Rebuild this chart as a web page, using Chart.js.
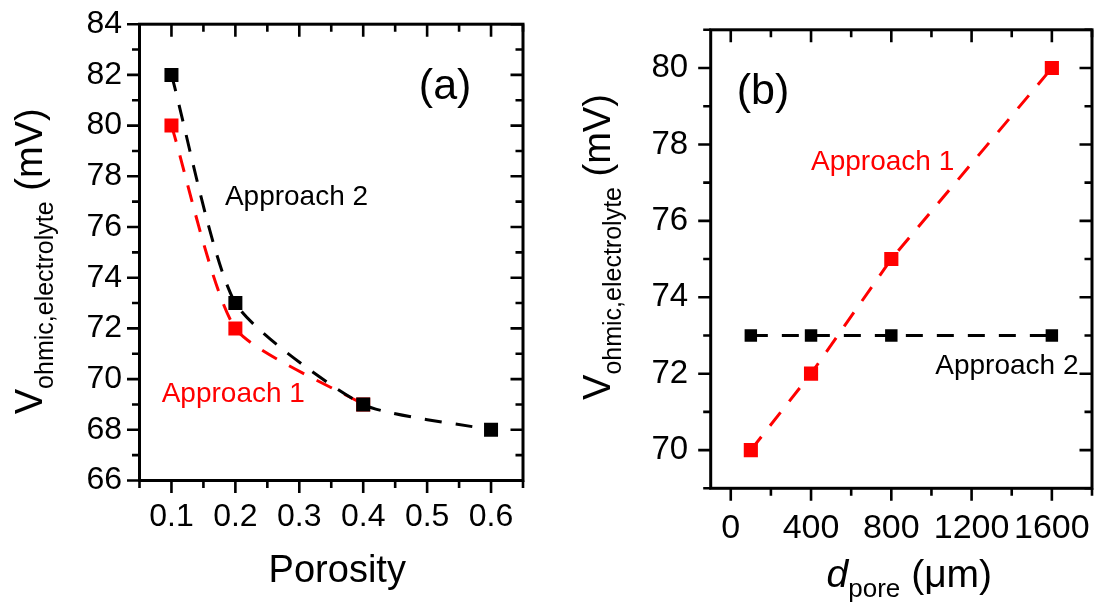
<!DOCTYPE html>
<html>
<head>
<meta charset="utf-8">
<script src="https://cdn.jsdelivr.net/npm/chart.js@4.4.0/dist/chart.umd.min.js"></script>
<style>
  html, body { margin: 0; padding: 0; background: #fff; }
  #wrap { position: relative; width: 1102px; height: 609px; }
  .panel { position: absolute; top: 0; width: 551px; height: 609px; }
</style>
</head>
<body>
<div id="wrap">
  <div class="panel" style="left:0"><canvas id="chartA" width="551" height="609"></canvas></div>
  <div class="panel" style="left:551px"><canvas id="chartB" width="551" height="609"></canvas></div>
</div>
<script>
// (a) voltage vs porosity
const porosity = [0.1, 0.2, 0.4, 0.6];
const porosityApproach1 = [80, 72, 69];
const porosityApproach2 = [82, 73, 69, 68];
const porosityTicks = [0.1, 0.2, 0.3, 0.4, 0.5, 0.6];
const voltageTicksA = [66, 68, 70, 72, 74, 76, 78, 80, 82, 84];

// (b) voltage vs pore diameter
const poreSize = [100, 400, 800, 1600];
const poreApproach1 = [70, 72, 75, 80];
const poreApproach2 = [73, 73, 73, 73];
const poreTicks = [0, 400, 800, 1200, 1600];
const voltageTicksB = [70, 72, 74, 76, 78, 80];

const RED = '#ff0000';
const FONT = "'Liberation Sans', Arial, sans-serif";
Chart.defaults.font.family = FONT;
Chart.defaults.color = '#000';

function pts(xs, ys) {
    return ys.map((y, i) => ({ x: xs[i], y: y }));
}

function minorList(min, max, step) {
    const out = [];
    for (let v = min; v <= max + step / 100; v += step) out.push(+v.toFixed(4));
    return out;
}

// draw a row of text runs (for subscripts), optionally rotated
function drawRuns(ctx, runs, x, y, angle, center) {
    ctx.save();
    ctx.translate(x, y);
    ctx.rotate(angle || 0);
    ctx.textAlign = 'left';
    ctx.textBaseline = 'alphabetic';
    let total = 0;
    runs.forEach(r => { ctx.font = r.font; total += ctx.measureText(r.text).width; });
    let cx = center ? -total / 2 : 0;
    runs.forEach(r => {
        ctx.font = r.font;
        ctx.fillStyle = r.color || '#000';
        ctx.fillText(r.text, cx, r.dy || 0);
        cx += ctx.measureText(r.text).width;
    });
    ctx.restore();
}

// frame + Origin style ticks (out on bottom/left, in on top/right)
const frameTicks = {
    id: 'frameTicks',
    beforeDatasetsDraw(chart, args, opts) {
        const { ctx, chartArea: a, scales: { x, y } } = chart;
        const major = 12.5, minor = 7.5;
        ctx.save();
        ctx.strokeStyle = '#000';
        ctx.lineWidth = 2.6;
        ctx.lineCap = 'butt';
        ctx.beginPath();
        const xTick = (v, len) => {
            const px = x.getPixelForValue(v);
            ctx.moveTo(px, a.bottom); ctx.lineTo(px, a.bottom + len);
            ctx.moveTo(px, a.top); ctx.lineTo(px, a.top + len);
        };
        const yTick = (v, len) => {
            const py = y.getPixelForValue(v);
            ctx.moveTo(a.left, py); ctx.lineTo(a.left - len, py);
            ctx.moveTo(a.right, py); ctx.lineTo(a.right - len, py);
        };
        opts.xMajor.forEach(v => xTick(v, major));
        opts.xMinor.forEach(v => xTick(v, minor));
        opts.yMajor.forEach(v => yTick(v, major));
        opts.yMinor.forEach(v => yTick(v, minor));
        ctx.stroke();
        ctx.lineWidth = 3;
        ctx.strokeRect(a.left, a.top, a.right - a.left, a.bottom - a.top);
        ctx.restore();
    }
};

// free text: panel letter, series names, axis titles
const panelText = {
    id: 'panelText',
    afterDatasetsDraw(chart, args, opts) {
        const { ctx, chartArea: a, scales: { x, y } } = chart;
        opts.labels.forEach(l => {
            drawRuns(ctx, [{ text: l.text, font: l.font, color: l.color }],
                x.getPixelForValue(l.x), y.getPixelForValue(l.y));
        });
        const yt = opts.yTitle;
        drawRuns(ctx, yt.runs, a.left - yt.dx, (a.top + a.bottom) / 2 + yt.dy, -Math.PI / 2, true);
        const xt = opts.xTitle;
        drawRuns(ctx, xt.runs, (a.left + a.right) / 2 + xt.dx, a.bottom + xt.dy, 0, true);
    }
};

function vTitle() {
    return [
        { text: 'V', font: '38px ' + FONT },
        { text: 'ohmic,electrolyte', font: '25px ' + FONT, dy: 11 },
        { text: ' (mV)', font: '38px ' + FONT }
    ];
}

function axisOpts(min, max, tickVals, size, fitSize, isX, pad, fmt) {
    return {
        type: 'linear',
        min: min,
        max: max,
        afterBuildTicks: s => { s.ticks = tickVals.map(v => ({ value: v })); },
        afterFit: s => { if (isX) s.height = fitSize; else s.width = fitSize; },
        grid: { display: true, drawOnChartArea: false, drawTicks: true, tickLength: 12.5, color: 'rgba(0,0,0,0)' },
        border: { display: false },
        ticks: { padding: pad, color: '#000', font: { size: size }, maxRotation: 0, autoSkip: false, callback: fmt }
    };
}

const dashed = [17, 14];

// Panel (a)
new Chart(document.getElementById('chartA'), {
    type: 'line',
    data: {
        datasets: [
            {
                label: 'Approach 2',
                data: pts(porosity, porosityApproach2),
                borderColor: '#000', backgroundColor: '#000',
                borderWidth: 3, borderDash: dashed, tension: 0.2,
                pointStyle: 'rect', pointRadius: 9.9, pointBorderWidth: 0,
                order: 1
            },
            {
                label: 'Approach 1',
                data: pts(porosity, porosityApproach1),
                borderColor: RED, backgroundColor: RED,
                borderWidth: 3, borderDash: dashed, tension: 0.2,
                pointStyle: 'rect', pointRadius: 9.9, pointBorderWidth: 0,
                order: 2
            }
        ]
    },
    options: {
        responsive: false,
        animation: false,
        layout: { padding: { left: 0, right: 28, top: 23, bottom: 0 } },
        plugins: {
            legend: { display: false },
            tooltip: { enabled: false },
            frameTicks: {
                xMajor: porosityTicks, xMinor: minorList(0.05, 0.65, 0.1),
                yMajor: voltageTicksA, yMinor: minorList(67, 83, 2)
            },
            panelText: {
                labels: [
                    { text: '(a)', x: 0.487, y: 81.04, font: '43px ' + FONT, color: '#000' },
                    { text: 'Approach 2', x: 0.1836, y: 76.87, font: '28px ' + FONT, color: '#000' },
                    { text: 'Approach 1', x: 0.0847, y: 69.11, font: '28px ' + FONT, color: RED }
                ],
                yTitle: { runs: vTitle(), dx: 98, dy: 9 },
                xTitle: { runs: [{ text: 'Porosity', font: '38px ' + FONT }], dx: 6, dy: 101 }
            }
        },
        scales: {
            x: axisOpts(0.05, 0.65, porosityTicks, 32, 128.5, true, 5, v => v.toFixed(1)),
            y: axisOpts(66, 84, voltageTicksA, 32, 139.5, false, 5, v => v)
        }
    },
    plugins: [frameTicks, panelText]
});

// Panel (b)
new Chart(document.getElementById('chartB'), {
    type: 'line',
    data: {
        datasets: [
            {
                label: 'Approach 1',
                data: pts(poreSize, poreApproach1),
                borderColor: RED, backgroundColor: RED,
                borderWidth: 3, borderDash: dashed, tension: 0,
                pointStyle: 'rect', pointRadius: 10, pointBorderWidth: 0,
                order: 2
            },
            {
                label: 'Approach 2',
                data: pts(poreSize, poreApproach2),
                borderColor: '#000', backgroundColor: '#000',
                borderWidth: 3, borderDash: dashed, tension: 0,
                pointStyle: 'rect', pointRadius: 8.8, pointBorderWidth: 0,
                order: 1
            }
        ]
    },
    options: {
        responsive: false,
        animation: false,
        layout: { padding: { left: 0, right: 2.7, top: 23.3, bottom: 0 } },
        plugins: {
            legend: { display: false },
            tooltip: { enabled: false },
            frameTicks: {
                xMajor: poreTicks, xMinor: minorList(200, 1800, 400),
                yMajor: voltageTicksB, yMinor: minorList(69, 81, 2)
            },
            panelText: {
                labels: [
                    { text: '(b)', x: 30, y: 79.07, font: '43px ' + FONT, color: '#000' },
                    { text: 'Approach 1', x: 400, y: 77.33, font: '28px ' + FONT, color: RED },
                    { text: 'Approach 2', x: 1019, y: 72.0, font: '28px ' + FONT, color: '#000' }
                ],
                yTitle: { runs: vTitle(), dx: 100.7, dy: -12 },
                xTitle: {
                    runs: [
                        { text: 'd', font: 'italic 39px ' + FONT },
                        { text: 'pore', font: '26px ' + FONT, dy: 10 },
                        { text: ' (\u03bcm)', font: '39px ' + FONT }
                    ],
                    dx: 8, dy: 98.4
                }
            }
        },
        scales: {
            x: axisOpts(-100, 1800, poreTicks, 34, 120.7, true, 7, v => v),
            y: axisOpts(69, 81, voltageTicksB, 33, 159.7, false, 10, v => v)
        }
    },
    plugins: [frameTicks, panelText]
});
</script>
</body>
</html>
